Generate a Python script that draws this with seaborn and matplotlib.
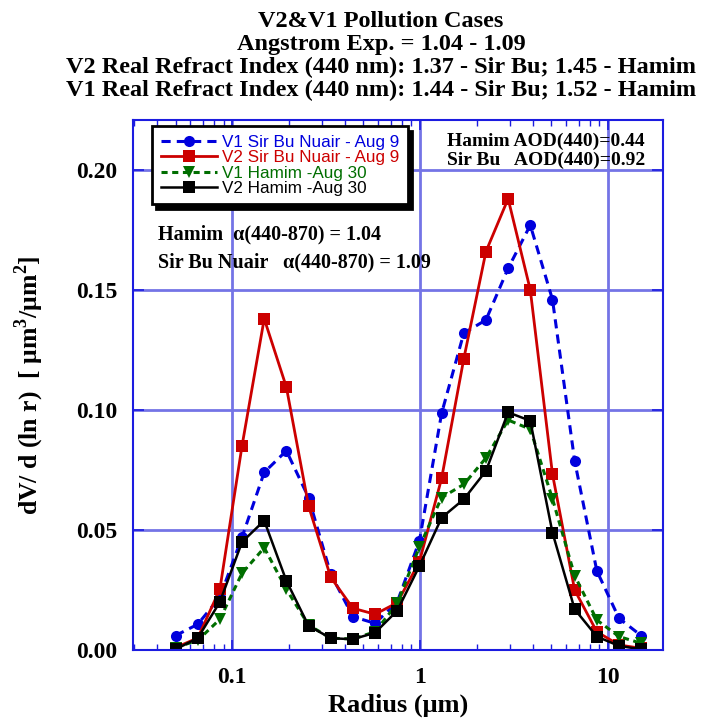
import matplotlib
matplotlib.use('Agg')
import matplotlib.pyplot as plt
from matplotlib.ticker import FixedLocator, FixedFormatter, LogLocator, NullFormatter
import seaborn as sns

# radius bins (um)
radius = [0.05, 0.065604, 0.086077, 0.112939, 0.148184, 0.194429, 0.255105,
          0.334716, 0.439173, 0.576227, 0.756052, 0.991996, 1.301571, 1.707757,
          2.240702, 2.939966, 3.857452, 5.061260, 6.640745, 8.713145,
          11.432287, 15.0]

# dV/dlnr
v1_sirbu = [0.006, 0.0107, 0.022, 0.047, 0.074, 0.083, 0.0635, 0.0317, 0.0139,
            0.0111, 0.020, 0.0455, 0.0986, 0.132, 0.1375, 0.159, 0.177, 0.146,
            0.0788, 0.033, 0.0132, 0.006]
v2_sirbu = [0.001, 0.005, 0.0253, 0.0851, 0.138, 0.1095, 0.060, 0.0303, 0.0174,
            0.0149, 0.0197, 0.0368, 0.0715, 0.1213, 0.166, 0.188, 0.150, 0.0733,
            0.025, 0.0076, 0.0021, 0.0007]
v1_hamim = [0.001, 0.004, 0.0128, 0.032, 0.0426, 0.0253, 0.0104, 0.0049, 0.0046,
            0.0076, 0.0194, 0.043, 0.0635, 0.069, 0.080, 0.0958, 0.092, 0.063,
            0.031, 0.0125, 0.0056, 0.0028]
v2_hamim = [0.0003, 0.0049, 0.020, 0.045, 0.0539, 0.0288, 0.0101, 0.0049, 0.0045,
            0.0072, 0.0164, 0.035, 0.0551, 0.0628, 0.0746, 0.099, 0.0955, 0.0489,
            0.017, 0.0056, 0.0017, 0.0003]

labels = ['V1 Sir Bu Nuair - Aug 9', 'V2 Sir Bu Nuair - Aug 9',
          'V1 Hamim -Aug 30', 'V2 Hamim -Aug 30']
xticks = [0.1, 1, 10]
xticklabels = ['0.1', '1', '10']
yticks = [0.0, 0.05, 0.10, 0.15, 0.20]

plt.rcParams['font.family'] = ['Liberation Serif', 'DejaVu Serif']
plt.rcParams['font.weight'] = 'bold'
plt.rcParams['mathtext.fontset'] = 'custom'
plt.rcParams['mathtext.rm'] = 'Liberation Serif:bold'
plt.rcParams['mathtext.bf'] = 'Liberation Serif:bold'

axis_blue = '#1c1ce0'
grid_blue = '#7474e6'

fig = plt.figure(figsize=(7.06, 7.27), dpi=100)
ax = fig.add_axes([133 / 706, 77 / 727, 530 / 706, 530 / 727])

styles = [
    (v1_sirbu, '#0000dd', 'o', (0, (3, 2)), 2.2, 8),
    (v2_sirbu, '#cc0000', 's', '-', 2.0, 8.5),
    (v1_hamim, '#006e00', 'v', (0, (2, 1.5)), 2.2, 8),
    (v2_hamim, 'black', 's', '-', 1.8, 8.5),
]
for (vals, col, mk, ls, lw, ms), lab in zip(styles, labels):
    sns.lineplot(x=radius, y=vals, ax=ax, color=col, marker=mk, linestyle=ls,
                 linewidth=lw, markersize=ms, markeredgewidth=0, label=lab)

ax.set_xscale('log')
ax.set_xlim(0.0297, 19.6)
ax.set_ylim(0, 0.2208)
ax.xaxis.set_major_locator(FixedLocator(xticks))
ax.xaxis.set_major_formatter(FixedFormatter(xticklabels))
ax.xaxis.set_minor_locator(LogLocator(base=10, subs=range(2, 10)))
ax.xaxis.set_minor_formatter(NullFormatter())
ax.set_yticks(yticks)
ax.set_yticklabels(['%.2f' % v for v in yticks])

ax.grid(True, which='major', color=grid_blue, linewidth=2)
for sp in ax.spines.values():
    sp.set_color(axis_blue)
    sp.set_linewidth(1.5)
ax.tick_params(which='both', direction='in', top=True, right=True,
               color=axis_blue, labelsize=17)
ax.tick_params(axis='x', which='major', length=7, width=1.2, pad=12)
ax.tick_params(axis='x', which='minor', length=4, width=1)
ax.tick_params(axis='y', which='major', length=8, width=1.2, pad=11)

ax.set_xlabel('Radius (μm)', fontsize=19, fontweight='bold', labelpad=4)
ax.set_ylabel('dV/ d (ln r)  [ μm$^{3}$/μm$^{2}$]', fontsize=18.5,
              fontweight='bold', labelpad=22)

leg = ax.legend(loc='upper left', bbox_to_anchor=(0.036, 0.988),
                borderaxespad=0,
                prop={'family': 'Liberation Sans', 'size': 12.3, 'weight': 'normal'},
                handlelength=3.3, handletextpad=0.3, labelspacing=0.02,
                borderpad=0.5, fancybox=False, framealpha=1,
                shadow={'color': 'black', 'alpha': 1, 'ox': 3, 'oy': -3})
leg.get_frame().set_edgecolor('black')
leg.get_frame().set_linewidth(2)
for txt, (vals, col, *_) in zip(leg.get_texts(), styles):
    txt.set_color(col)

ax.text(0.047, 0.774, 'Hamim  α(440-870) = 1.04', transform=ax.transAxes,
        fontsize=14.5, fontweight='bold', va='baseline')
ax.text(0.047, 0.721, 'Sir Bu Nuair   α(440-870) = 1.09', transform=ax.transAxes,
        fontsize=14.5, fontweight='bold', va='baseline')
ax.text(0.592, 0.951, 'Hamim AOD(440)=0.44', transform=ax.transAxes,
        fontsize=14, fontweight='bold', va='baseline')
ax.text(0.592, 0.915, 'Sir Bu   AOD(440)=0.92', transform=ax.transAxes,
        fontsize=14, fontweight='bold', va='baseline')

title = ('V2&V1 Pollution Cases\n'
         'Angstrom Exp. = 1.04 - 1.09\n'
         'V2 Real Refract Index (440 nm): 1.37 - Sir Bu; 1.45 - Hamim\n'
         'V1 Real Refract Index (440 nm): 1.44 - Sir Bu; 1.52 - Hamim')
fig.text(381 / 706, 1 - 11 / 727, title, ha='center', va='top', fontsize=17.5,
         fontweight='bold', linespacing=1.12)

fig.savefig('out.png', dpi=100)
